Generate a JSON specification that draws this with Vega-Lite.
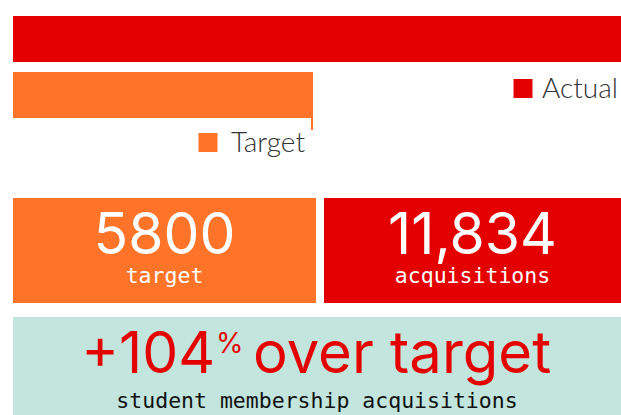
{
  "$schema": "https://vega.github.io/schema/vega-lite/v6.json",
  "padding": {"left": 13, "top": 16, "right": 0, "bottom": 0},
  "background": "white",
  "config": {"view": {"stroke": null}},
  "datasets": {
    "bars": [
      {"series": "Actual", "value": 11834},
      {"series": "Target", "value": 5800}
    ],
    "tiles": [
      {"tile": "target", "big": "5800", "small": "target"},
      {"tile": "actual", "big": "11,834", "small": "acquisitions"}
    ],
    "summary": [
      {"big": "+104", "sup": "%", "rest": "over target", "small": "student membership acquisitions"}
    ]
  },
  "bounds": "full",
  "spacing": 14,
  "resolve": {"scale": {"color": "independent", "x": "independent", "y": "independent"}},
  "vconcat": [
    {
      "width": 608,
      "height": 168,
      "data": {"name": "bars"},
      "encoding": {
        "y": {"field": "series", "type": "nominal", "sort": ["Actual", "Target"], "axis": null,
              "scale": {"paddingInner": 0.1786, "paddingOuter": 0.5893, "align": 0}},
        "x": {"field": "value", "type": "quantitative", "axis": null,
              "scale": {"domain": [0, 11755], "clamp": true, "nice": false, "zero": true}},
        "color": {"field": "series", "type": "nominal", "legend": null,
                  "scale": {"domain": ["Actual", "Target"], "range": ["#E50000", "#FF7429"]}}
      },
      "layer": [
        {"mark": {"type": "bar"}},
        {
          "transform": [{"filter": "datum.series == 'Target'"}],
          "mark": {"type": "rule", "strokeWidth": 2, "xOffset": -1, "yOffset": 23, "y2Offset": 35},
          "encoding": {
            "y": {"field": "series", "type": "nominal", "sort": ["Actual", "Target"]},
            "y2": {"field": "series"}
          }
        },
        {
          "transform": [{"filter": "datum.series == 'Actual'"}],
          "mark": {"type": "point", "shape": "square", "filled": true, "opacity": 1, "size": 361, "xOffset": -98, "yOffset": 26.5},
          "encoding": {"y": {"field": "series", "type": "nominal", "sort": ["Actual", "Target"], "bandPosition": 1}}
        },
        {
          "transform": [{"filter": "datum.series == 'Target'"}],
          "mark": {"type": "point", "shape": "square", "filled": true, "opacity": 1, "size": 361, "xOffset": -105, "yOffset": 24.5},
          "encoding": {"y": {"field": "series", "type": "nominal", "sort": ["Actual", "Target"], "bandPosition": 1}}
        },
        {
          "transform": [{"filter": "datum.series == 'Actual'"}],
          "mark": {"type": "text", "align": "right", "baseline": "alphabetic", "dx": -3, "dy": 36,
                   "font": "Lato", "fontSize": 28, "fontWeight": 300},
          "encoding": {
            "y": {"field": "series", "type": "nominal", "sort": ["Actual", "Target"], "bandPosition": 1},
            "text": {"field": "series", "type": "nominal"},
            "color": {"value": "#333333"}
          }
        },
        {
          "transform": [{"filter": "datum.series == 'Target'"}],
          "mark": {"type": "text", "align": "right", "baseline": "alphabetic", "dx": -8, "dy": 34,
                   "font": "Lato", "fontSize": 28, "fontWeight": 300},
          "encoding": {
            "y": {"field": "series", "type": "nominal", "sort": ["Actual", "Target"], "bandPosition": 1},
            "text": {"field": "series", "type": "nominal"},
            "color": {"value": "#333333"}
          }
        }
      ]
    },
    {
      "spacing": 8,
      "hconcat": [
        {
          "width": 303, "height": 105,
          "view": {"fill": "#FF7429", "stroke": null},
          "data": {"name": "tiles"},
          "transform": [{"filter": "datum.tile == 'target'"}],
          "layer": [
            {"mark": {"type": "text", "font": "Inter", "fontSize": 57, "color": "white", "baseline": "alphabetic", "dy": 3.5},
             "encoding": {"text": {"field": "big", "type": "nominal"}}},
            {"mark": {"type": "text", "font": "DejaVu Sans Mono", "fontSize": 21.5, "color": "white", "baseline": "alphabetic", "dy": 32.5},
             "encoding": {"text": {"field": "small", "type": "nominal"}}}
          ]
        },
        {
          "width": 297, "height": 105,
          "view": {"fill": "#E50000", "stroke": null},
          "data": {"name": "tiles"},
          "transform": [{"filter": "datum.tile == 'actual'"}],
          "layer": [
            {"mark": {"type": "text", "font": "Inter", "fontSize": 57, "color": "white", "baseline": "alphabetic", "dy": 3.5},
             "encoding": {"text": {"field": "big", "type": "nominal"}}},
            {"mark": {"type": "text", "font": "DejaVu Sans Mono", "fontSize": 21.5, "color": "white", "baseline": "alphabetic", "dy": 32.5},
             "encoding": {"text": {"field": "small", "type": "nominal"}}}
          ]
        }
      ]
    },
    {
      "width": 608, "height": 98,
      "view": {"fill": "#C2E5DE", "stroke": null},
      "data": {"name": "summary"},
      "layer": [
        {"mark": {"type": "text", "font": "Inter", "fontSize": 57, "color": "#E50000", "baseline": "alphabetic", "align": "right", "dx": -102, "dy": 7},
         "encoding": {"text": {"field": "big", "type": "nominal"}}},
        {"mark": {"type": "text", "font": "Inter", "fontSize": 28, "color": "#E50000", "baseline": "alphabetic", "align": "left", "dx": -101, "dy": -13},
         "encoding": {"text": {"field": "sup", "type": "nominal"}}},
        {"mark": {"type": "text", "font": "Inter", "fontSize": 58, "color": "#E50000", "baseline": "alphabetic", "align": "left", "dx": -64, "dy": 7},
         "encoding": {"text": {"field": "rest", "type": "nominal"}}},
        {"mark": {"type": "text", "font": "DejaVu Sans Mono", "fontSize": 21.5, "color": "#111111", "baseline": "alphabetic", "dy": 42},
         "encoding": {"text": {"field": "small", "type": "nominal"}}}
      ]
    }
  ]
}
